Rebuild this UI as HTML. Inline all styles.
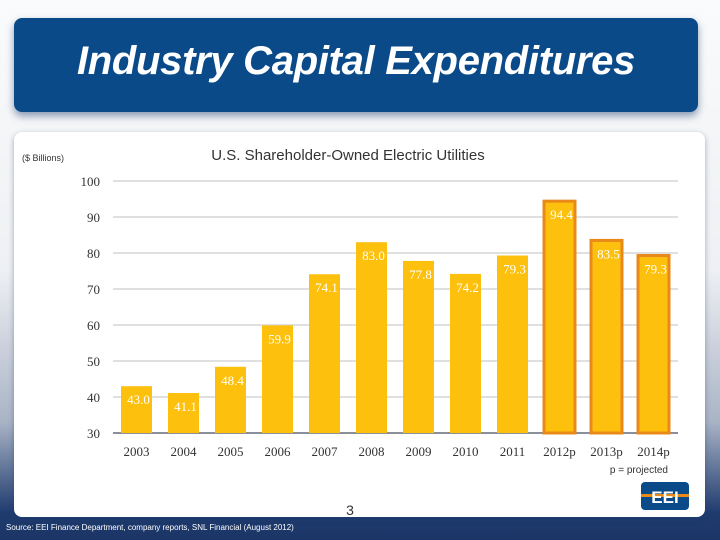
<!DOCTYPE html>
<html><head><meta charset="utf-8"><style>
body{margin:0;width:720px;height:540px;overflow:hidden;font-family:"Liberation Sans",sans-serif;background:linear-gradient(to bottom,#fafbfc 0%,#eef0f3 50%,#aab4c6 78%,#1f3b6e 95%,#1b3566 100%);position:relative}
#banner{position:absolute;left:14px;top:18px;width:684px;height:94px;background:#0b4a89;border-radius:8px;box-shadow:0 4px 8px rgba(30,60,110,.5)}
#title{position:absolute;left:0;width:100%;top:21px;text-align:center;color:#fff;font-style:italic;font-size:40px;font-weight:bold;letter-spacing:-0.3px}
#card{position:absolute;left:14px;top:132px;width:691px;height:385px;background:#fff;border-radius:8px;box-shadow:0 2px 6px rgba(30,60,110,.4)}
#src{position:absolute;left:6px;top:523px;color:#fff;font-size:8px}
svg{position:absolute;left:0;top:0}
</style></head><body>
<div id="banner"><div id="title">Industry Capital Expenditures</div></div>
<div id="card"></div>
<div id="src">Source: EEI Finance Department, company reports, SNL Financial (August 2012)</div>
<svg id="chart" width="720" height="540">
<text x="22" y="161" font-size="9" fill="#333">($ Billions)</text>
<text x="348" y="160" font-size="15" fill="#333" text-anchor="middle">U.S. Shareholder-Owned Electric Utilities</text>
<text x="668" y="473" font-size="10" fill="#333" text-anchor="end">p = projected</text>
<text x="350" y="515" font-size="14" fill="#333" text-anchor="middle">3</text>
<g><rect x="641" y="482" width="48" height="28" rx="4" fill="#0b4a89"/><rect x="641" y="494" width="48" height="3" fill="#e8891a"/><text x="665" y="503" font-size="17" font-weight="bold" fill="#fff" text-anchor="middle">EEI</text></g>
</svg>
<script>
const categories=["2003","2004","2005","2006","2007","2008","2009","2010","2011","2012p","2013p","2014p"];
const values=[43.0,41.1,48.4,59.9,74.1,83.0,77.8,74.2,79.3,94.4,83.5,79.3];
const projected=[false,false,false,false,false,false,false,false,false,true,true,true];
const yTicks=[30,40,50,60,70,80,90,100];
const svg=document.getElementById('chart');const NS='http://www.w3.org/2000/svg';
const y0=433,y1=181,vmin=30,vmax=100;
function yS(v){return y0-(v-vmin)/(vmax-vmin)*(y0-y1);}
const xL=113,step=47,bw=31;
function xS(i){return 121+i*step;}
function mk(t,a){const e=document.createElementNS(NS,t);for(const k in a)e.setAttribute(k,a[k]);svg.appendChild(e);return e;}
yTicks.forEach(v=>{
 const l=mk('line',{x1:xL,x2:678,y1:yS(v),y2:yS(v),stroke:v===30?'#8a8f99':'#d6d6d6','stroke-width':v===30?2:1.5});
 
 
 const t=mk('text',{x:100,y:yS(v)+5,'font-size':13,fill:'#333','text-anchor':'end','font-family':'Liberation Serif'});
 t.textContent=v;
 
 
});
values.forEach((v,i)=>{
 const x=xS(i),top=yS(v);
 const r=mk('rect',{x:x,y:top,width:bw,height:y0-top,fill:'#fdc00c'});
 if(projected[i]){r.setAttribute('stroke','#e8891a');r.setAttribute('stroke-width','3');}
 
 
 const t=mk('text',{x:x+bw/2+2,y:top+18,'font-size':13,fill:'#fff','text-anchor':'middle','font-family':'Liberation Serif'});
 t.textContent=v.toFixed(1);
 
 
 const c=mk('text',{x:x+bw/2,y:456,'font-size':13,fill:'#333','text-anchor':'middle','font-family':'Liberation Serif'});
 c.textContent=categories[i];
 
 
});
</script>
</body></html>
